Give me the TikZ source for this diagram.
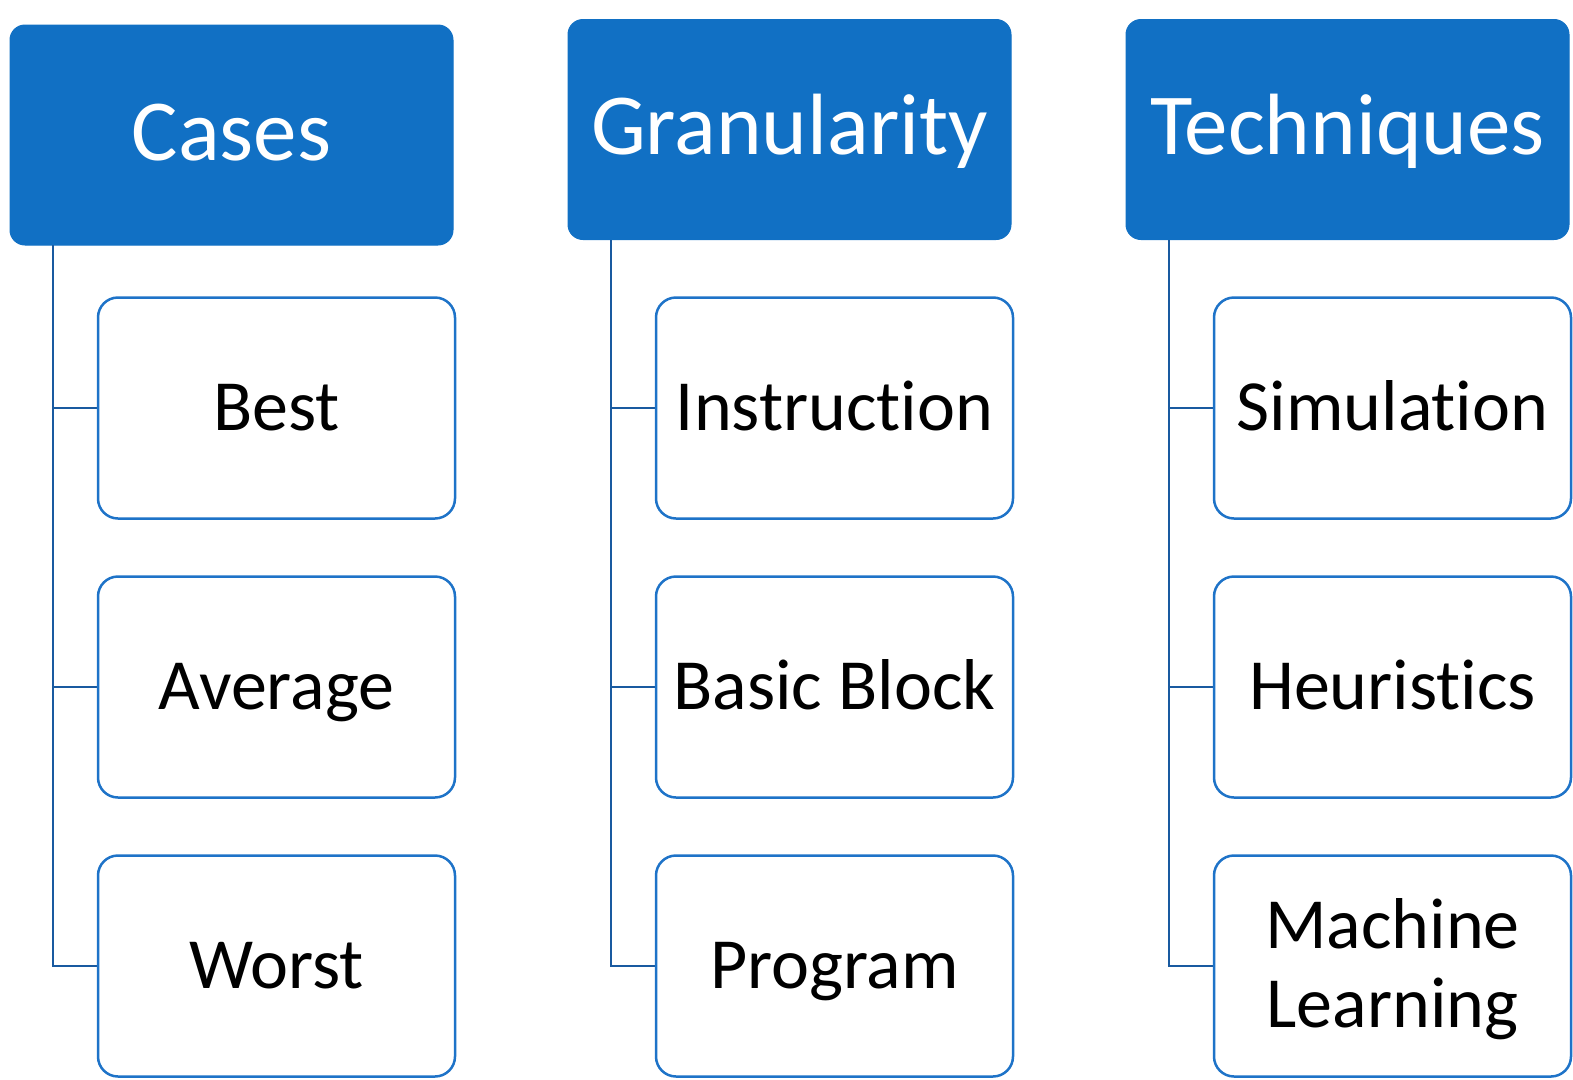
\documentclass[tikz,border=0pt]{standalone}
\usepackage{fontspec}
\setmainfont{Carlito}[Ligatures={NoCommon}]
\definecolor{headblue}{RGB}{17,112,196}
\definecolor{boxblue}{RGB}{30,115,200}
\definecolor{linkblue}{RGB}{25,90,160}
\begin{document}
\begin{tikzpicture}[x=1pt,y=-1pt,
  headbox/.style={rectangle, rounded corners=15pt, fill=headblue, draw=headblue, line width=1pt,
    minimum width=443pt, minimum height=220pt, inner sep=0pt, text=white,
    font=\fontsize{87}{100}\selectfont, text height=56pt, text depth=6pt},
  childbox/.style={rectangle, rounded corners=20pt, fill=white, draw=boxblue, line width=2.5pt,
    minimum width=357pt, minimum height=221pt, inner sep=0pt, text=black,
    font=\fontsize{72}{79}\selectfont, text height=46pt, text depth=2pt},
  conn/.style={draw=linkblue, line width=2.2pt}]
\useasboundingbox (0,0) rectangle (1573,1079);
% headers
\node[headbox] (cases) at (231.5,135) {Cases};
\node[headbox] (gran) at (789.5,129.5) {Granularity};
\node[headbox] (tech) at (1347.5,129.5) {Techniques};
% trunk start points
\coordinate (c0) at (53,245);
\coordinate (g0) at (611,240);
\coordinate (t0) at (1169,240);
% connectors (drawn first)
\draw[conn] (c0) |- (276.5,966);
\draw[conn] (g0) |- (834.5,966);
\draw[conn] (t0) |- (1392.5,966);
\draw[conn] (c0 |- 0,408) -- (276.5,408);
\draw[conn] (c0 |- 0,687) -- (276.5,687);
\draw[conn] (g0 |- 0,408) -- (834.5,408);
\draw[conn] (g0 |- 0,687) -- (834.5,687);
\draw[conn] (t0 |- 0,408) -- (1392.5,408);
\draw[conn] (t0 |- 0,687) -- (1392.5,687);
% children
\node[childbox] (best) at (276.5,408) {Best};
\node[childbox] (avg) at (276.5,687) {Average};
\node[childbox] (worst) at (276.5,966) {Worst};
\node[childbox] (instr) at (834.5,408) {Instruction};
\node[childbox] (bb) at (834.5,687) {Basic Block};
\node[childbox] (prog) at (834.5,966) {Program};
\node[childbox] (sim) at (1392.5,408) {Simulation};
\node[childbox] (heur) at (1392.5,687) {Heuristics};
\node[childbox] (ml) at (1392.5,966) {};
\node[font=\fontsize{72}{79}\selectfont, anchor=base] (mltext) at (1392.5,948) {Machine};
\node[font=\fontsize{72}{79}\selectfont, anchor=base] (mltext2) at (1392.5,1027) {Learning};
\end{tikzpicture}
\end{document}
